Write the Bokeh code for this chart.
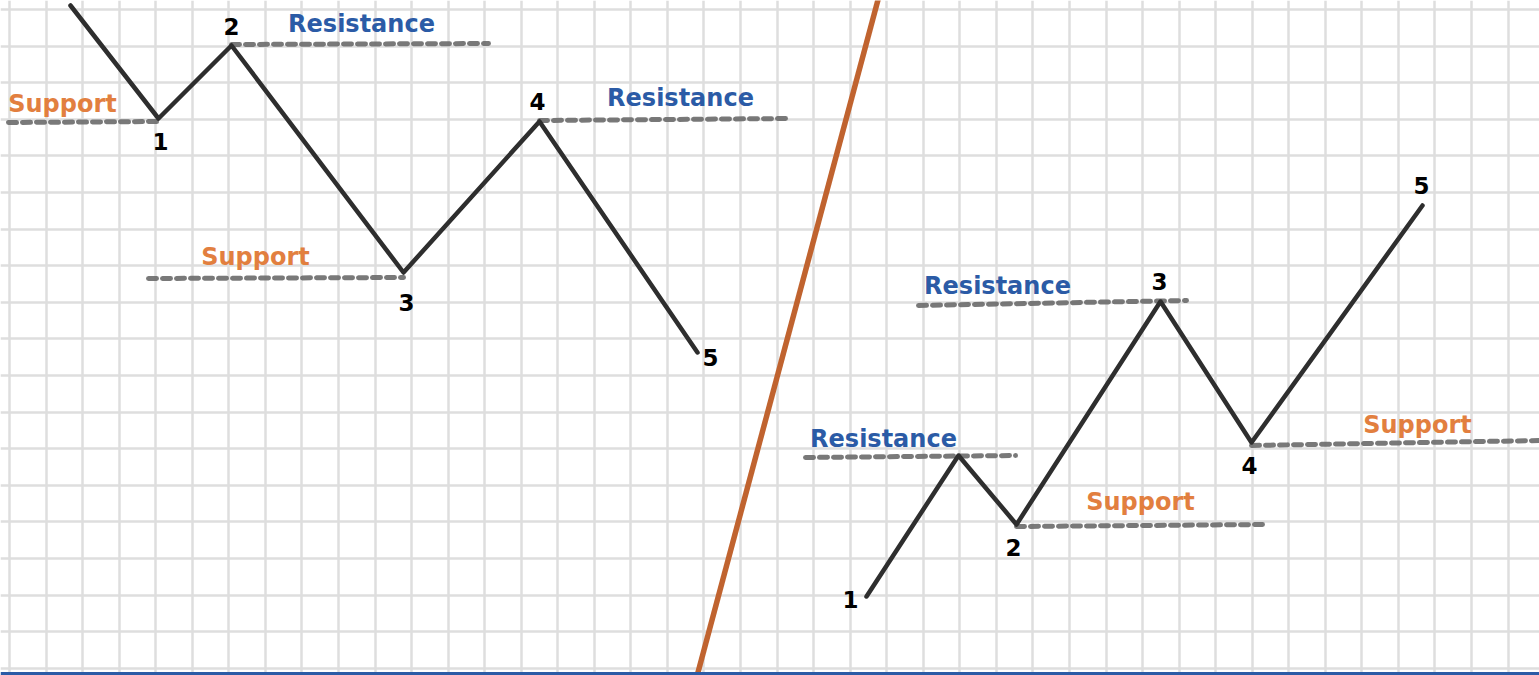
from bokeh.plotting import figure
from bokeh.models import Range1d, FixedTicker, Span
from bokeh.core.properties import value
from bokeh.embed import file_html
from bokeh.resources import INLINE

# ---- data (reference pixel coordinates, y grows downward) ----
left_x = [70, 158, 231, 403, 539, 697]
left_y = [5, 118, 45, 272, 121, 352]
right_x = [866, 958, 1016, 1160, 1251, 1422]
right_y = [596, 455, 524, 301, 442, 205]

num_text = ["1", "2", "3", "4", "5", "1", "2", "3", "4", "5"]
num_x = [160, 231, 406, 537, 710, 850, 1013, 1159, 1249, 1421]
num_y = [141, 26, 302, 101, 357, 599, 547, 281, 465, 185]

lvl_x0 = [8, 231, 148, 539, 805, 918, 1016, 1251]
lvl_x1 = [158, 488, 403, 790, 1015, 1186, 1266, 1539]
lvl_y0 = [122, 44, 278, 120, 457, 305, 526, 445]
lvl_y1 = [121, 43, 277, 118, 455, 300, 524, 440]

lbl_text = ["Support", "Resistance", "Support", "Resistance",
            "Resistance", "Resistance", "Support", "Support"]
lbl_x = [62, 361, 255, 680, 883, 997, 1140, 1417]
lbl_y = [103, 23, 256, 97, 438, 285, 501, 424]

divider_x = [880, 694]
divider_y = [-10, 685]

grid_x = [9 + 36.55 * k for k in range(43)]
grid_y = [9 + 36.6 * k for k in range(19)]

ORANGE = "#E27F3F"
BLUE = "#2B5BA6"
lbl_color = [ORANGE if t == "Support" else BLUE for t in lbl_text]

p = figure(width=1539, height=675, output_backend="svg", toolbar_location=None,
           x_range=Range1d(0, 1539), y_range=Range1d(675, 0), min_border=0)
p.outline_line_color = None
p.background_fill_color = "white"
p.border_fill_color = "white"
p.xaxis.visible = False
p.yaxis.visible = False
p.xgrid.ticker = FixedTicker(ticks=grid_x)
p.ygrid.ticker = FixedTicker(ticks=grid_y)
for g in (p.xgrid, p.ygrid):
    g.grid_line_color = "#DEDEDE"
    g.grid_line_width = 2.5
    g.grid_line_alpha = 1.0

# support / resistance levels
p.segment(x0=lvl_x0, y0=lvl_y0, x1=lvl_x1, y1=lvl_y1, line_color="#6A6A6A",
          line_width=5, line_dash="8 6", line_cap="round", line_alpha=0.9)

# price paths
for xs, ys in ((left_x, left_y), (right_x, right_y)):
    p.line(xs, ys, line_color="#2E2E2E", line_width=4.5, line_join="round",
           line_cap="round")

# divider
p.line(divider_x, divider_y, line_color="#C0632F", line_width=5.5)

# pivot numbers
p.text(x=num_x, y=num_y, text=num_text, text_align="center",
       text_baseline="middle", text_font=value("DejaVu Sans"),
       text_font_style="bold", text_font_size="23px", text_color="black")

# level labels
p.text(x=lbl_x, y=lbl_y, text=lbl_text, text_align="center",
       text_baseline="middle", text_font=value("DejaVu Sans"),
       text_font_style="bold", text_font_size="24px", text_color=lbl_color)

p.add_layout(Span(location=673, dimension="width", line_color=BLUE, line_width=3))

open("out.html", "w").write(file_html(p, INLINE))
